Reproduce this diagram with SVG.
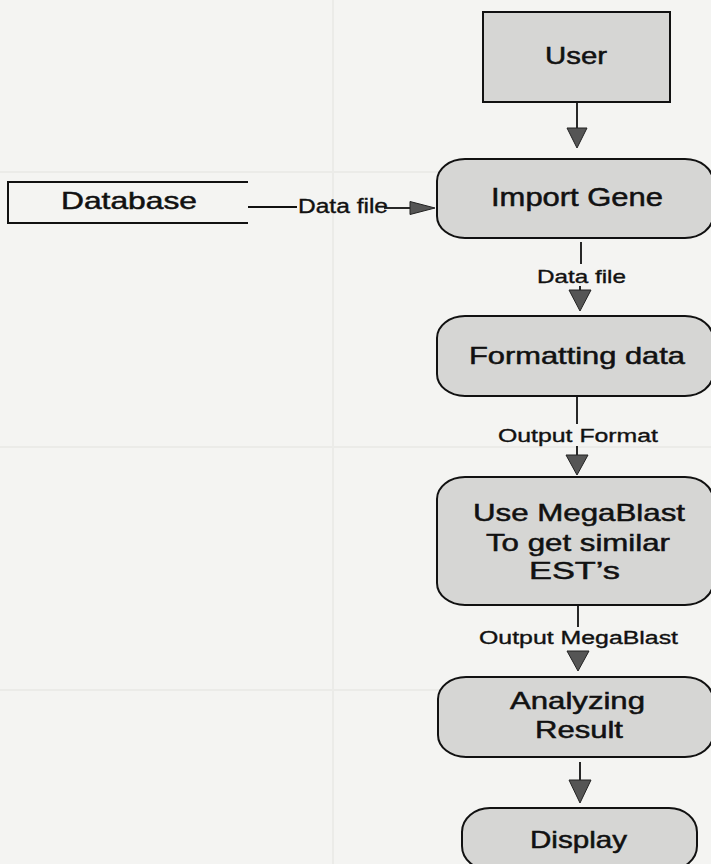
<svg xmlns="http://www.w3.org/2000/svg" width="711" height="864" viewBox="0 0 711 864">
  <defs>
    <style>
      .bg { fill: #f4f4f2; }
      .rule { stroke: #ebebe8; stroke-width: 2; fill: none; }
      .box { fill: #d6d6d4; stroke: #111; stroke-width: 2; }
      .db { fill: none; stroke: #111; stroke-width: 2; }
      .edge { stroke: #111; stroke-width: 1.8; fill: none; }
      .head { fill: #555; stroke: #222; stroke-width: 1; stroke-linejoin: round; }
      .node { font-family: "Liberation Sans", Arial, sans-serif; fill: #111; stroke: #111; stroke-width: 0.5; }
      .lbl { font-family: "Liberation Sans", Arial, sans-serif; fill: #111; stroke: #111; stroke-width: 0.35; }
    </style>
  </defs>

  <rect class="bg" x="0" y="0" width="711" height="864"/>

  <!-- faint bleed-through table rules -->
  <g id="background">
    <line class="rule" x1="0" y1="172" x2="711" y2="172"/>
    <line class="rule" x1="0" y1="447" x2="711" y2="447"/>
    <line class="rule" x1="0" y1="690" x2="711" y2="690"/>
    <line class="rule" x1="333" y1="0" x2="333" y2="864"/>
  </g>

  <g id="connectors">
    <!-- User -> Import Gene -->
    <line class="edge" x1="577" y1="102" x2="577" y2="130"/>
    <polygon class="head" points="567,128 587,128 577,148"/>

    <!-- Database -> Import Gene -->
    <line class="edge" x1="248" y1="207" x2="297" y2="207"/>
    <text class="lbl" x="298" y="213" font-size="20" textLength="90" lengthAdjust="spacingAndGlyphs">Data file</text>
    <line class="edge" x1="384" y1="208" x2="412" y2="208"/>
    <polygon class="head" points="410,201.5 410,214.5 435,208"/>

    <!-- Import Gene -> Formatting data -->
    <line class="edge" x1="581" y1="242" x2="581" y2="264"/>
    <text class="lbl" x="537" y="283" font-size="19" textLength="89" lengthAdjust="spacingAndGlyphs">Data file</text>
    <line class="edge" x1="580" y1="286" x2="580" y2="292"/>
    <polygon class="head" points="569,290 591,290 580,311"/>

    <!-- Formatting data -> Use MegaBlast -->
    <line class="edge" x1="577" y1="396" x2="577" y2="424"/>
    <text class="lbl" x="498" y="442" font-size="18" textLength="160" lengthAdjust="spacingAndGlyphs">Output Format</text>
    <line class="edge" x1="577" y1="446" x2="577" y2="457"/>
    <polygon class="head" points="566,455 588,455 577,475"/>

    <!-- Use MegaBlast -> Analyzing Result -->
    <line class="edge" x1="578" y1="605" x2="578" y2="627"/>
    <text class="lbl" x="479" y="644" font-size="18" textLength="199" lengthAdjust="spacingAndGlyphs">Output MegaBlast</text>
    <polygon class="head" points="567,651 589,651 578,671"/>

    <!-- Analyzing Result -> Display -->
    <line class="edge" x1="580" y1="762" x2="580" y2="782"/>
    <polygon class="head" points="569,780 591,780 580,803"/>
  </g>

  <g id="user">
    <rect class="box" x="483" y="12" width="187" height="90"/>
    <text class="node" x="545" y="64" font-size="24" textLength="62" lengthAdjust="spacingAndGlyphs">User</text>
  </g>

  <g id="database">
    <path class="db" d="M248,182 H8 V223 H248"/>
    <text class="node" x="61" y="209" font-size="24" textLength="136" lengthAdjust="spacingAndGlyphs">Database</text>
  </g>

  <g id="import-gene">
    <rect class="box" x="437" y="159" width="276" height="79" rx="28" ry="22"/>
    <text class="node" x="491" y="206" font-size="25" textLength="172" lengthAdjust="spacingAndGlyphs">Import Gene</text>
  </g>

  <g id="formatting-data">
    <rect class="box" x="437" y="316" width="276" height="80" rx="28" ry="22"/>
    <text class="node" x="469" y="364" font-size="24" textLength="216" lengthAdjust="spacingAndGlyphs">Formatting data</text>
  </g>

  <g id="use-megablast">
    <rect class="box" x="437" y="477" width="276" height="128" rx="28" ry="22"/>
    <text class="node" x="473" y="521" font-size="24" textLength="212" lengthAdjust="spacingAndGlyphs">Use MegaBlast</text>
    <text class="node" x="486" y="551" font-size="24" textLength="184" lengthAdjust="spacingAndGlyphs">To get similar</text>
    <text class="node" x="529" y="579" font-size="24" textLength="91" lengthAdjust="spacingAndGlyphs">EST’s</text>
  </g>

  <g id="analyzing-result">
    <rect class="box" x="438" y="677" width="275" height="80" rx="28" ry="22"/>
    <text class="node" x="510" y="709" font-size="24" textLength="135" lengthAdjust="spacingAndGlyphs">Analyzing</text>
    <text class="node" x="535" y="738" font-size="24" textLength="88" lengthAdjust="spacingAndGlyphs">Result</text>
  </g>

  <g id="display">
    <rect class="box" x="462" y="808" width="235" height="62" rx="28" ry="24"/>
    <text class="node" x="530" y="848" font-size="24" textLength="97" lengthAdjust="spacingAndGlyphs">Display</text>
  </g>
</svg>
